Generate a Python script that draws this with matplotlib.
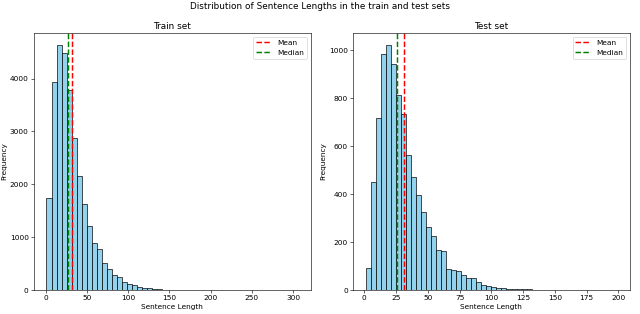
import matplotlib.pyplot as plt
import numpy as np

# bin counts (50 bins per set)
train_counts = [1740, 3940, 4630, 4485, 3780, 2880, 2155, 1620, 1210, 900,
                775, 515, 395, 295, 240, 157, 113, 94, 63, 44,
                31, 25, 14, 10, 8, 6, 5, 4, 3, 2,
                2, 1, 0, 0, 0, 0, 0, 0, 0, 0,
                0, 0, 0, 0, 0, 0, 0, 0, 0, 1]
train_range = (1, 306)
train_mean = 32.4
train_median = 27

test_counts = [94, 451, 719, 983, 1021, 942, 812, 735, 564, 472,
               397, 326, 264, 226, 169, 165, 88, 86, 79, 65,
               51, 51, 32, 22, 19, 11, 8, 7, 6, 5,
               4, 3, 3, 2, 2, 1, 2, 1, 1, 1,
               0, 1, 0, 0, 1, 2, 0, 0, 0, 1]
test_range = (1, 199)
test_mean = 30.9
test_median = 26

panels = [
    ("Train set", train_counts, train_range, train_mean, train_median),
    ("Test set", test_counts, test_range, test_mean, test_median),
]

fig, axes = plt.subplots(1, 2, figsize=(12, 5.8875), dpi=640 / 12)
fig.subplots_adjust(left=0.053, right=0.984, top=0.895, bottom=0.076, wspace=0.153)

for ax, (title, counts, rng, mean, median) in zip(axes, panels):
    edges = np.linspace(rng[0], rng[1], len(counts) + 1)
    centers = (edges[:-1] + edges[1:]) / 2
    ax.hist(centers, bins=edges, weights=counts, color="skyblue",
            edgecolor="black", alpha=0.9)
    ax.axvline(mean, color="red", linestyle="dashed", linewidth=2, label="Mean")
    ax.axvline(median, color="green", linestyle="dashed", linewidth=2, label="Median")
    ax.set_title(title)
    ax.set_xlabel("Sentence Length")
    ax.set_ylabel("Frequency")
    ax.legend(loc="upper right")

fig.suptitle("Distribution of Sentence Lengths in the train and test sets", y=0.995)
plt.savefig("out.png")
